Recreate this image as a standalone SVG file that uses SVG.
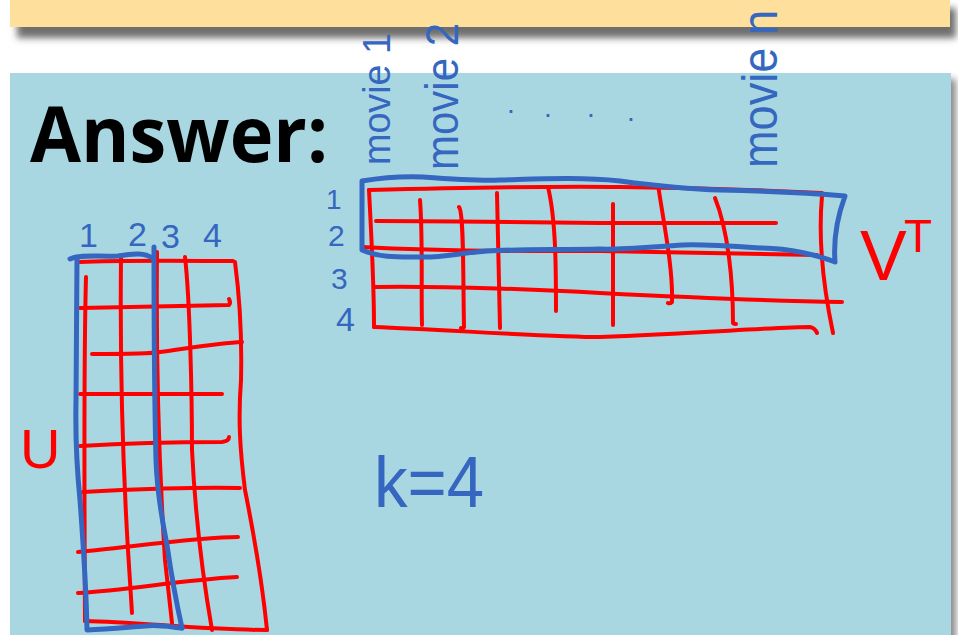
<svg xmlns="http://www.w3.org/2000/svg" width="958" height="635" viewBox="0 0 958 635">
<defs>
<filter id="sh" x="-5%" y="-50%" width="110%" height="200%"><feGaussianBlur stdDeviation="3.5"/></filter>
<style>
.r{fill:none;stroke:#ff0000;stroke-width:4;stroke-linecap:round;stroke-linejoin:round}
.b{fill:none;stroke:#3566c0;stroke-width:5;stroke-linecap:round;stroke-linejoin:round}
.bt{fill:#3566c0;font-family:"Liberation Sans",Arial,sans-serif}
.rt{fill:#ff0000;font-family:"Liberation Sans",Arial,sans-serif}
</style>
</defs>
<rect width="958" height="635" fill="#ffffff"/>
<g id="banner">
<rect x="17" y="8" width="939" height="30" fill="#6e6e6e" filter="url(#sh)"/>
<rect x="10" y="-5" width="940" height="32" fill="#fee09c"/>
</g>
<g id="panel">
<rect x="16" y="79" width="940" height="570" fill="#8a8a8a" filter="url(#sh)"/>
<rect x="10" y="73" width="941" height="570" fill="#a8d7e1"/>
</g>
<text id="answer" x="30" y="162" font-family="'Open Sans','Liberation Sans',Arial,sans-serif" font-weight="bold" font-size="77" textLength="298" lengthAdjust="spacingAndGlyphs" fill="#000">Answer:</text>
<g id="VT-matrix">
<g id="VT-grid">
<path class="r" d="M369,190 C450,188 550,186 620,187 C700,188 780,191 822,193"/>
<path class="r" d="M369,190 C371,230 374,280 374,327"/>
<path class="r" d="M374,327 C450,330 550,337 600,337 C700,333 780,327 810,327 Q815,328 817,333"/>
<path class="r" d="M376,221 C450,221 550,223 600,223 L776,223"/>
<path class="r" d="M362,247 C450,252 550,251 600,251 L817,255"/>
<path class="r" d="M375,287 C450,286 550,290 600,293 C700,298 780,301 842,302"/>
<path class="r" d="M822,196 C818,240 824,290 833,333"/>
<path class="r" d="M420,200 C423,240 421,290 422,325"/>
<path class="r" d="M459,207 C464,212 463,280 464,327 Q463,329 461,328"/>
<path class="r" d="M497,193 L500,328"/>
<path class="r" d="M548,187 C556,220 556,270 556,311"/>
<path class="r" d="M613,204 L613,325"/>
<path class="r" d="M658,185 C665,230 673,270 672,302 Q670,304 668,303"/>
<path class="r" d="M715,198 C728,230 733,280 733,323 Q734,324 736,324"/>
</g>
<path id="VT-band" class="b" d="M362,181 C380,178 400,176 423,177 C450,179 480,181 500,180 C540,179 580,177 620,181 C650,185 680,189 720,190 C770,191 800,192 845,196 C838,215 833,235 835,262 C820,256 790,248 760,248 C730,246 700,244 683,245 C650,247 620,250 600,249 C560,250 520,249 487,251 C460,253 440,258 420,257 C400,257 380,258 362,250 Z"/>
</g>
<g id="U-matrix">
<g id="U-grid">
<path class="r" d="M80,262 C120,260 200,261 233,261"/>
<path class="r" d="M235,262 C240,300 242,340 241,380 C238,420 240,450 245,490 C255,540 262,580 267,630"/>
<path class="r" d="M85,621 C140,622 200,630 267,630"/>
<path class="r" d="M86,277 C84,350 84,450 85,621"/>
<path class="r" d="M121,258 C120,350 122,450 128,550 L132,613"/>
<path class="r" d="M157,252 C156,350 158,450 165,560 L172,623"/>
<path class="r" d="M185,257 C190,300 192,400 192,450 C196,530 205,590 212,630"/>
<path class="r" d="M80,308 C130,307 190,306 229,305 Q231,303 229,299"/>
<path class="r" d="M92,354 C130,354 150,354 160,352 C190,348 220,343 242,342"/>
<path class="r" d="M80,394 L222,394"/>
<path class="r" d="M80,446 C130,443 200,442 222,442 Q229,441 229,437"/>
<path class="r" d="M83,492 C130,489 200,487 240,488"/>
<path class="r" d="M78,552 C130,547 200,537 238,537"/>
<path class="r" d="M78,593 C130,590 180,580 237,577"/>
</g>
<g id="U-band">
<path class="b" d="M70,259 C80,254 100,257 118,256 C135,253 145,253 152,258"/>
<path class="b" d="M77,258 L76,400 C75,450 78,480 80,500 C83,540 86,580 87,630 C110,629 130,627 145,626 C160,624 175,628 182,628"/>
<path class="b" d="M154,247 C154,350 155,420 156,460 C157,490 162,520 167,545 C172,580 178,610 182,628"/>
</g>
</g>
<g id="labels">
<text class="bt" font-size="38" textLength="132" lengthAdjust="spacingAndGlyphs" transform="translate(390,165) rotate(-90)">movie 1</text>
<text class="bt" font-size="46" textLength="147" lengthAdjust="spacingAndGlyphs" transform="translate(458,170) rotate(-90)">movie 2</text>
<text class="bt" font-size="50" textLength="158" lengthAdjust="spacingAndGlyphs" transform="translate(777,168) rotate(-90)">movie n</text>
<text class="bt" font-size="28" x="507 544 587 627" y="113 117 117 121">....</text>
<text class="bt" font-size="34" x="79" y="247">1</text>
<text class="bt" font-size="34" x="128" y="246">2</text>
<text class="bt" font-size="34" x="161" y="248">3</text>
<text class="bt" font-size="34" x="203" y="247">4</text>
<text class="bt" font-size="28" x="326" y="209">1</text>
<text class="bt" font-size="30" x="328" y="246">2</text>
<text class="bt" font-size="30" x="331" y="289">3</text>
<text class="bt" font-size="34" x="336" y="331">4</text>
<text class="rt" font-size="56" x="20" y="468">U</text>
<text class="rt" font-size="70" x="860" y="280">V</text>
<text class="rt" font-size="46" x="904" y="252">T</text>
<text class="bt" font-size="72" x="374" y="507" textLength="110" lengthAdjust="spacingAndGlyphs">k=4</text>
</g>
</svg>
